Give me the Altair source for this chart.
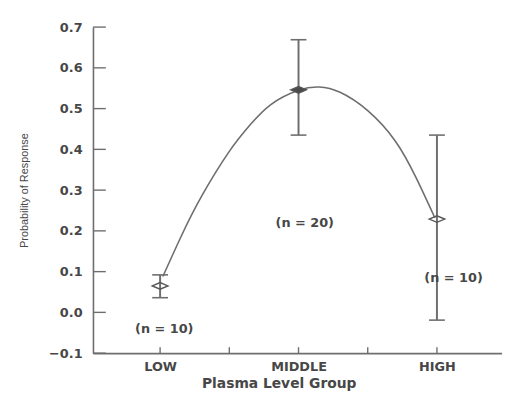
import altair as alt
import pandas as pd

# ---- data ----
groups = ["LOW", "MIDDLE", "HIGH"]
group_pos = [1, 3, 5]
prob = [0.065, 0.546, 0.229]
err_low = [0.036, 0.435, -0.019]
err_high = [0.092, 0.669, 0.435]
marker_kind = ["open", "filled", "open"]

curve_x = [1.04, 1.3, 1.6, 2.0, 2.3, 2.6, 3.0, 3.3, 3.6, 4.0, 4.4, 4.7, 4.97]
curve_y = [0.088, 0.185, 0.285, 0.395, 0.46, 0.51, 0.545, 0.553, 0.54, 0.495, 0.42, 0.33, 0.232]

n_labels = ["(n = 10)", "(n = 20)", "(n = 10)"]
n_label_x = [1.06, 3.09, 5.24]
n_label_y = [-0.041, 0.218, 0.085]

x_ticks = [1, 2, 3, 4, 5]
y_ticks = [-0.1, 0.0, 0.1, 0.2, 0.3, 0.4, 0.5, 0.6, 0.7]

# ---- tables ----
pts = pd.DataFrame({"group": groups, "pos": group_pos, "prob": prob,
                    "lo": err_low, "hi": err_high, "kind": marker_kind})
caps = pd.DataFrame({"pos": group_pos * 2, "y": err_low + err_high})
curve = pd.DataFrame({"x": curve_x, "y": curve_y})
ann = pd.DataFrame({"label": n_labels, "x": n_label_x, "y": n_label_y})
xt = pd.DataFrame({"v": x_ticks})
yt = pd.DataFrame({"v": y_ticks})

GRAY = "#6e6e6e"
TXT = "#474747"
FONT = "DejaVu Sans"

xscale = alt.Scale(domain=[0.03, 5.94], nice=False, zero=False)
yscale = alt.Scale(domain=[-0.1, 0.7], nice=False, zero=False)

label_expr = ("datum.value == 1 ? 'LOW' : datum.value == 3 ? 'MIDDLE' : "
              "datum.value == 5 ? 'HIGH' : ''")

x_axis = alt.Axis(values=x_ticks, labelExpr=label_expr, ticks=False, grid=False,
                  domainColor=GRAY, domainWidth=1.6, labelPadding=8,
                  labelFont=FONT, labelFontSize=13, labelFontWeight="bold",
                  labelColor=TXT, title="Plasma Level Group",
                  titleFont=FONT, titleFontSize=14, titleFontWeight="bold",
                  titleColor=TXT, titleX=188, titleY=31, titleAlign="center",
                  titleBaseline="middle")
y_axis = alt.Axis(values=y_ticks, format=".1f", ticks=False, grid=False,
                  domainColor=GRAY, domainWidth=1.6, labelPadding=11,
                  labelFont=FONT, labelFontSize=13, labelFontWeight="bold",
                  labelColor=TXT, title="Probability of Response",
                  titleFont="Liberation Sans", titleFontSize=11,
                  titleFontWeight="normal", titleColor=TXT, titleAngle=270,
                  titleX=-69, titleY=165, titleAlign="center",
                  titleBaseline="middle")


def X(field):
    return alt.X(field, type="quantitative", scale=xscale, axis=x_axis)


def Y(field):
    return alt.Y(field, type="quantitative", scale=yscale, axis=y_axis)


curve_layer = alt.Chart(curve).mark_line(
    color=GRAY, strokeWidth=1.6, interpolate="natural"
).encode(x=X("x"), y=Y("y"))

ytick_layer = alt.Chart(yt).mark_rule(color=GRAY, strokeWidth=1.4).encode(
    y=Y("v"), x=alt.value(0), x2=alt.value(13),
)
xtick_layer = alt.Chart(xt).mark_rule(color=GRAY, strokeWidth=1.4).encode(
    x=X("v"), y=alt.value(330), y2=alt.value(324),
)

bar_layer = alt.Chart(pts).mark_rule(color=GRAY, strokeWidth=2).encode(
    x=X("pos"), y=Y("lo"), y2="hi:Q",
)
cap_layer = alt.Chart(caps).mark_rule(
    color=GRAY, strokeWidth=1.6, xOffset=-8, x2Offset=8
).encode(x=X("pos"), x2="pos:Q", y=Y("y"))

point_layer = alt.Chart(pts).mark_point(
    shape="M -1 0 L 0 -0.42 L 1 0 L 0 0.42 Z", size=250, filled=True,
    stroke="#555555", strokeWidth=1.4, opacity=1
).encode(
    x=X("pos"), y=Y("prob"),
    fill=alt.Fill("kind:N", scale=alt.Scale(domain=["open", "filled"],
                                            range=["transparent", "#4a4a4a"]),
                  legend=None),
)

ann_layer = alt.Chart(ann).mark_text(
    font=FONT, fontSize=13, fontWeight="bold", color=TXT,
    align="center", baseline="middle"
).encode(x=X("x"), y=Y("y"), text="label:N")

chart = alt.layer(
    curve_layer, ytick_layer, xtick_layer, bar_layer, cap_layer,
    point_layer, ann_layer
).properties(
    width=414, height=330,
    background="white",
    autosize=alt.AutoSizeParams(type="none"),
    padding={"left": 86, "top": 17, "right": 0, "bottom": 36},
).configure_view(stroke=None)

chart.save("out.html", embed_options={"renderer": "svg", "actions": False})
